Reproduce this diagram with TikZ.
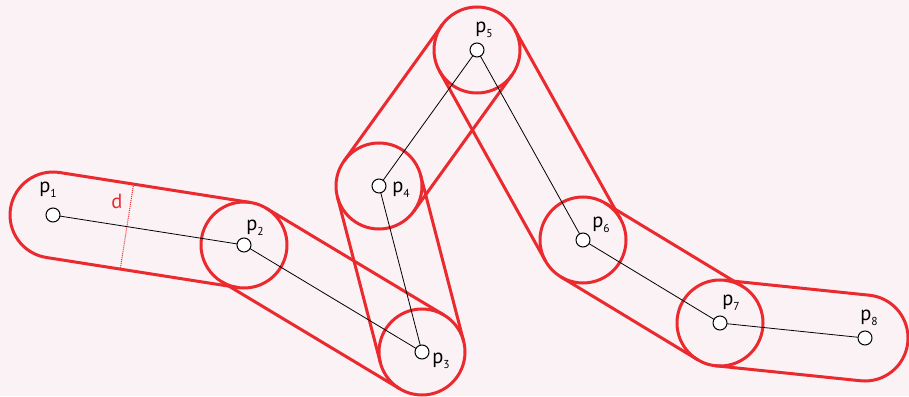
\documentclass[tikz,border=0pt]{standalone}
\usepackage{fontspec}
\setmainfont{PT Sans}
\usetikzlibrary{calc}
\definecolor{bg}{HTML}{FAF2F5}
\definecolor{capred}{HTML}{EA2A2E}
\tikzset{
  capline/.style={draw=capred, line width=3pt},
  pt/.style={circle, draw=black, fill=white, line width=1pt, minimum size=14pt, inner sep=0pt},
  plabel/.style={font=\fontsize{20.5}{24}\selectfont, inner sep=0pt},
  seg/.style={draw=black, line width=0.8pt}
}
\newcommand{\plab}[1]{p\raisebox{-0.45ex}{\fontsize{11.5}{12}\selectfont #1}}
\begin{document}
\begin{tikzpicture}[x=1pt,y=1pt]
\fill[bg] (0,0) rectangle (909,396);
\useasboundingbox (0,0) rectangle (909,396);
\coordinate (p1) at (53,181);
\coordinate (p2) at (244,151);
\coordinate (p3) at (422,44);
\coordinate (p4) at (379,210);
\coordinate (p5) at (477,346);
\coordinate (p6) at (583,156);
\coordinate (p7) at (720,73);
\coordinate (p8) at (865,58);
\def\R{43pt}
% tangent lines of capsules
\foreach \a/\b in {p1/p2,p2/p3,p3/p4,p4/p5,p5/p6,p6/p7,p7/p8}{
  \draw[capline, line cap=round] ($(\a)!\R!90:(\b)$) -- ($(\b)!\R!-90:(\a)$);
  \draw[capline, line cap=round] ($(\a)!\R!-90:(\b)$) -- ($(\b)!\R!90:(\a)$);
}
% full circles at interior points
\foreach \p in {p2,p3,p4,p5,p6,p7}{
  \draw[capline] (\p) circle[radius=\R];
}
% end caps
\draw[capline] ([shift={(81.07:\R)}]p1) arc[start angle=81.07, end angle=261.07, radius=\R];
\draw[capline] ([shift={(-95.91:\R)}]p8) arc[start angle=-95.91, end angle=84.09, radius=\R];
% d marker
\coordinate (m) at ($(p1)!0.387!(p2)$);
\draw[capred, line width=1pt, densely dotted] ($(m)!\R!90:(p2)$) -- ($(m)!\R!-90:(p2)$);
\node[text=capred, font=\fontsize{20.5}{24}\selectfont, inner sep=0pt] (dl) at (117,195) {d};
% polyline
\draw[seg] (p1) -- (p2) -- (p3) -- (p4) -- (p5) -- (p6) -- (p7) -- (p8);
% points
\foreach \p in {p1,p2,p3,p4,p5,p6,p7,p8}{
  \node[pt] (n\p) at (\p) {};
}
% labels
\node[plabel] (l1) at (48,206) {\plab{1}};
\node[plabel] (l2) at (255,168) {\plab{2}};
\node[plabel] (l3) at (441,35) {\plab{3}};
\node[plabel] (l4) at (401,206) {\plab{4}};
\node[plabel] (l5) at (484,366) {\plab{5}};
\node[plabel] (l6) at (601,171) {\plab{6}};
\node[plabel] (l7) at (731,93) {\plab{7}};
\node[plabel] (l8) at (869,78) {\plab{8}};
\end{tikzpicture}
\end{document}
